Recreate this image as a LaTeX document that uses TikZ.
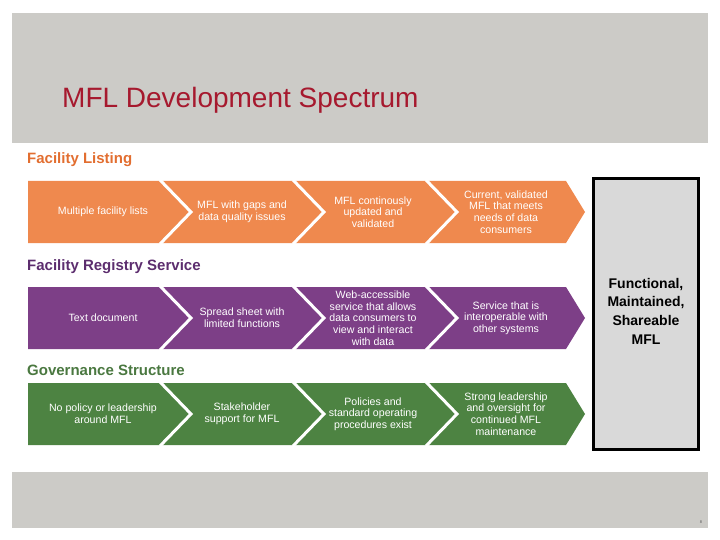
\documentclass[tikz,border=0pt]{standalone}
\usepackage{fontspec}
\setmainfont{Liberation Sans}
\usetikzlibrary{positioning}
\definecolor{bandgray}{RGB}{204,203,199}
\definecolor{titlered}{RGB}{166,25,46}
\definecolor{listorange}{RGB}{239,137,78}
\definecolor{listorangedark}{RGB}{226,110,48}
\definecolor{regpurple}{RGB}{125,63,135}
\definecolor{regpurpledark}{RGB}{92,45,110}
\definecolor{govgreen}{RGB}{77,131,66}
\definecolor{govgreendark}{RGB}{74,120,64}
\definecolor{boxgray}{RGB}{217,217,217}

% one row of four chevrons: #1 top y, #2 colour
\newcommand{\chevrow}[2]{%
  \begin{scope}[shift={(0,#1)}]
    \fill[#2] (28,0) -- (566,0) -- (585,31) -- (566,62) -- (28,62) -- cycle;
    \foreach \xa/\xb in {160/191, 293/324, 426/457}
      \draw[chevgap] (\xa,-1) -- (\xb,31) -- (\xa,63);
  \end{scope}}

\begin{document}
\begin{tikzpicture}[x=1pt, y=-1pt,
    chevgap/.style={draw=white, line width=3pt, line join=miter},
    rowhead/.style={anchor=base west, inner sep=0pt,
      font=\fontsize{15}{16}\selectfont\bfseries},
    chevtext/.style={text=white, align=center, inner sep=0pt,
      font=\fontsize{10.6}{11.7}\selectfont}]

  \useasboundingbox (0,0) rectangle (720,540);

  % top and bottom bands
  \fill[bandgray] (12,13) rectangle (708,143);
  \fill[bandgray] (12,472) rectangle (708,528);
  \node[anchor=base west, inner sep=0pt, text=titlered,
        font=\fontsize{28}{30}\selectfont] (title) at (62,108)
    {MFL Development Spectrum};
  \node[inner sep=0pt, text=black!65, font=\fontsize{4}{4}\selectfont]
    (pagenum) at (701,522) {8};

  % rows of chevrons
  \chevrow{181}{listorange}
  \chevrow{287}{regpurple}
  \chevrow{383}{govgreen}

  % facility listing
  \node[rowhead, text=listorangedark] (listhead) at (27,164) {Facility Listing};
  \node[chevtext] (list1) at (103,212) {Multiple facility lists};
  \node[chevtext] (list2) at (242,212) {MFL with gaps and\\data quality issues};
  \node[chevtext] (list3) at (373,212) {MFL continously\\updated and\\validated};
  \node[chevtext] (list4) at (506,212) {Current, validated\\MFL that meets\\needs of data\\consumers};

  % facility registry service
  \node[rowhead, text=regpurpledark] (reghead) at (27,270) {Facility Registry Service};
  \node[chevtext] (reg1) at (103,318) {Text document};
  \node[chevtext] (reg2) at (242,318) {Spread sheet with\\limited functions};
  \node[chevtext] (reg3) at (373,318) {Web-accessible\\service that allows\\data consumers to\\view and interact\\with data};
  \node[chevtext] (reg4) at (506,318) {Service that is\\interoperable with\\other systems};

  % governance structure
  \node[rowhead, text=govgreendark] (govhead) at (27,375) {Governance Structure};
  \node[chevtext] (gov1) at (103,414) {No policy or leadership\\around MFL};
  \node[chevtext] (gov2) at (242,414) {Stakeholder\\support for MFL};
  \node[chevtext] (gov3) at (373,414) {Policies and\\standard operating\\procedures exist};
  \node[chevtext] (gov4) at (506,414) {Strong leadership\\and oversight for\\continued MFL\\maintenance};

  % end state
  \node[draw=black, line width=3pt, fill=boxgray, minimum width=105pt,
        minimum height=271pt] (goal) at (646,314) {};
  \node[align=center, inner sep=0pt,
        font=\fontsize{14}{18.7}\selectfont\bfseries] (goaltext) at (646,311)
    {Functional,\\Maintained,\\Shareable\\MFL};
\end{tikzpicture}
\end{document}
